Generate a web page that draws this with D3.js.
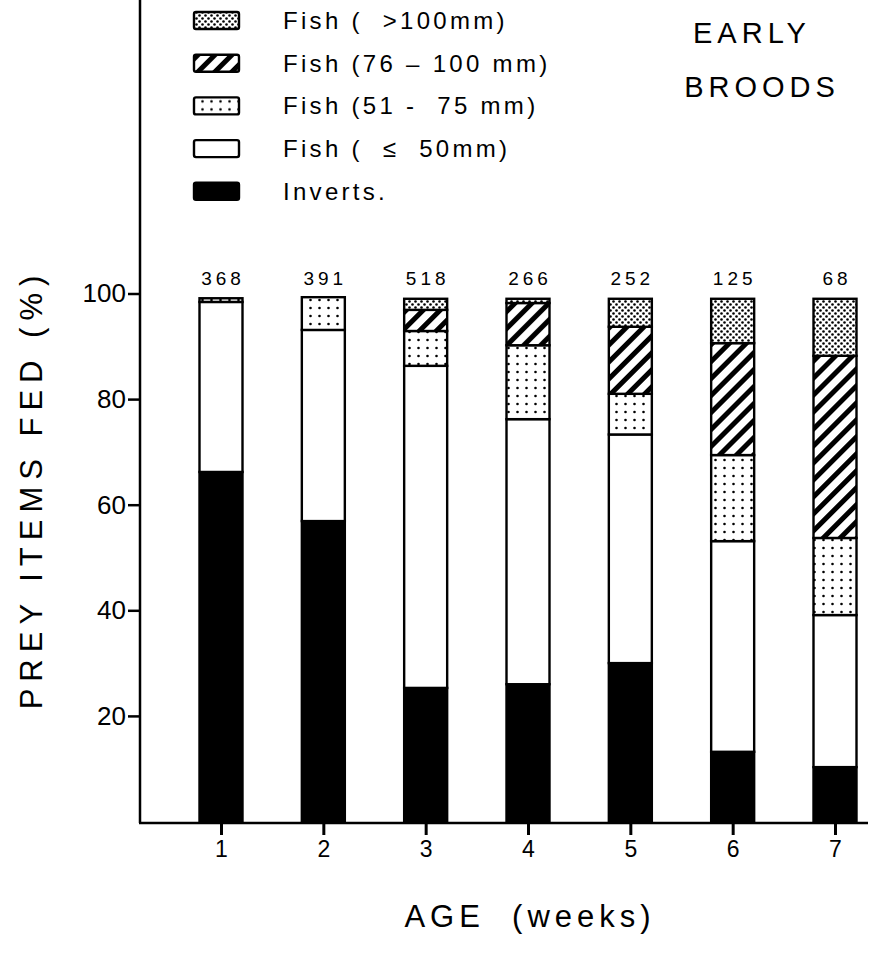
<!DOCTYPE html>
<meta charset="utf-8">
<style>
  body { margin: 0; background: #fff; }
  text { font-family: "Liberation Sans", Arial, sans-serif; fill: #000; }
</style>
<body>
<script src="https://cdn.jsdelivr.net/npm/d3@7"></script>
<script>

// ages (weeks) and sample sizes above each bar
var weeks = ["1", "2", "3", "4", "5", "6", "7"];
var counts = [368, 391, 518, 266, 252, 125, 68];

// percent of prey items
var inverts   = [66.2, 56.9, 25.3, 26.0, 30.0, 13.2, 10.3];
var fish50    = [32.2, 36.2, 61.0, 50.2, 43.3, 39.9, 28.8];
var fish51_75 = [0.7,  6.2,  6.6,  14.0, 7.7,  16.3, 14.6];
var fish76_100 = [0,   0,    4.0,  8.0,  12.7, 21.2, 34.5];
var fish100   = [0,    0,    2.1,  0.8,  5.3,  8.4,  10.8];

var yTicks = [20, 40, 60, 80, 100];

var keys = ["inverts", "fish50", "fish51_75", "fish76_100", "fish100"];
var legendLabels = {
  fish100: "Fish (  >100mm)",
  fish76_100: "Fish (76 – 100 mm)",
  fish51_75: "Fish (51 -  75 mm)",
  fish50: "Fish (  ≤  50mm)",
  inverts: "Inverts."
};
var fills = {
  inverts: "#000",
  fish50: "#fff",
  fish51_75: "url(#sparse)",
  fish76_100: "url(#hatch)",
  fish100: "url(#dense)"
};

var width = 872,
    height = 958;

var svg = d3.select("body").append("svg")
    .attr("width", width)
    .attr("height", height);

// patterns
var defs = svg.append("defs");
var dense = defs.append("pattern").attr("id", "dense")
    .attr("patternUnits", "userSpaceOnUse").attr("width", 6).attr("height", 6);
dense.append("rect").attr("width", 6).attr("height", 6).attr("fill", "#fff");
dense.append("circle").attr("cx", 1.5).attr("cy", 1.5).attr("r", 1.3).attr("fill", "#000");
dense.append("circle").attr("cx", 4.5).attr("cy", 4.5).attr("r", 1.3).attr("fill", "#000");

var hatch = defs.append("pattern").attr("id", "hatch")
    .attr("patternUnits", "userSpaceOnUse").attr("width", 12).attr("height", 12)
    .attr("patternTransform", "rotate(45)");
hatch.append("rect").attr("width", 12).attr("height", 12).attr("fill", "#fff");
hatch.append("rect").attr("width", 5).attr("height", 12).attr("fill", "#000");

var sparse = defs.append("pattern").attr("id", "sparse")
    .attr("patternUnits", "userSpaceOnUse").attr("width", 9).attr("height", 8);
sparse.append("rect").attr("width", 9).attr("height", 8).attr("fill", "#fff");
sparse.append("circle").attr("cx", 4.5).attr("cy", 4).attr("r", 1.3).attr("fill", "#000");

// scales
var x = d3.scalePoint().domain(weeks).range([221, 835]);
var y = d3.scaleLinear().domain([0, 100]).range([821.5, 293.5]);
var barW = 43;

var table = weeks.map(function(w, i) {
  return { week: w, inverts: inverts[i], fish50: fish50[i], fish51_75: fish51_75[i],
           fish76_100: fish76_100[i], fish100: fish100[i] };
});
var series = d3.stack().keys(keys)(table);

// bars
var g = svg.append("g");
series.forEach(function(s) {
  g.selectAll(null)
    .data(s.filter(function(d) { return d[1] - d[0] > 0; }))
    .enter().append("rect")
      .attr("x", function(d) { return x(d.data.week) - barW / 2; })
      .attr("y", function(d) { return y(d[1]); })
      .attr("width", barW)
      .attr("height", function(d) { return y(d[0]) - y(d[1]); })
      .attr("fill", fills[s.key])
      .attr("stroke", "#000")
      .attr("stroke-width", 2.4);
});

// counts over bars
svg.append("g").selectAll("text")
  .data(weeks)
  .enter().append("text")
    .attr("x", function(d) { return x(d) + 2; })
    .attr("y", 285)
    .attr("text-anchor", "middle")
    .attr("font-size", 19)
    .attr("letter-spacing", 4)
    .text(function(d, i) { return counts[i]; });

// y axis
var yAxis = svg.append("g")
    .attr("transform", "translate(140,0)")
    .call(d3.axisLeft(y).tickValues(yTicks).tickSize(12).tickSizeOuter(0).tickPadding(2));
yAxis.select(".domain").remove();
yAxis.selectAll(".tick line").attr("stroke-width", 2.5);
yAxis.selectAll(".tick text")
    .attr("font-size", 26)
    .attr("font-family", "Liberation Sans, Arial, sans-serif")
    .attr("fill", "#000");
svg.append("line")
    .attr("x1", 140).attr("x2", 140)
    .attr("y1", 0).attr("y2", 823)
    .attr("stroke", "#000").attr("stroke-width", 2.5);

// x axis
var xAxis = svg.append("g")
    .attr("transform", "translate(0,823)")
    .call(d3.axisBottom(x).tickSize(12).tickSizeOuter(0).tickPadding(6));
xAxis.select(".domain").remove();
xAxis.selectAll(".tick line").attr("stroke-width", 3);
xAxis.selectAll(".tick text")
    .attr("font-size", 23)
    .attr("font-family", "Liberation Sans, Arial, sans-serif")
    .attr("fill", "#000");
svg.append("line")
    .attr("x1", 139).attr("x2", 868)
    .attr("y1", 823).attr("y2", 823)
    .attr("stroke", "#000").attr("stroke-width", 2.5);

// axis titles
svg.append("text")
    .attr("transform", "translate(42,489) rotate(-90)")
    .attr("text-anchor", "middle")
    .attr("font-size", 31)
    .attr("letter-spacing", 7)
    .text("PREY ITEMS FED (%)");

svg.append("text")
    .attr("x", 530).attr("y", 927)
    .attr("text-anchor", "middle")
    .attr("font-size", 31)
    .attr("letter-spacing", 5)
    .style("white-space", "pre")
    .text("AGE  (weeks)");

// legend
var legendOrder = keys.slice().reverse();
var legend = svg.append("g").selectAll("g")
  .data(legendOrder)
  .enter().append("g")
    .attr("transform", function(d, i) { return "translate(0," + (20 + i * 42.7) + ")"; });
legend.append("rect")
    .attr("x", 194).attr("y", -8)
    .attr("width", 45).attr("height", 17)
    .attr("rx", 2)
    .attr("fill", function(d) { return fills[d]; })
    .attr("stroke", "#000").attr("stroke-width", 2.4);
legend.append("text")
    .attr("x", 283).attr("y", 9)
    .attr("font-size", 24)
    .attr("letter-spacing", 3.3)
    .style("white-space", "pre")
    .text(function(d) { return legendLabels[d]; });

// title
svg.append("text")
    .attr("x", 752).attr("y", 43)
    .attr("text-anchor", "middle")
    .attr("font-size", 29)
    .attr("letter-spacing", 5)
    .text("EARLY");
svg.append("text")
    .attr("x", 762).attr("y", 97)
    .attr("text-anchor", "middle")
    .attr("font-size", 29)
    .attr("letter-spacing", 5)
    .text("BROODS");

</script>
</body>
